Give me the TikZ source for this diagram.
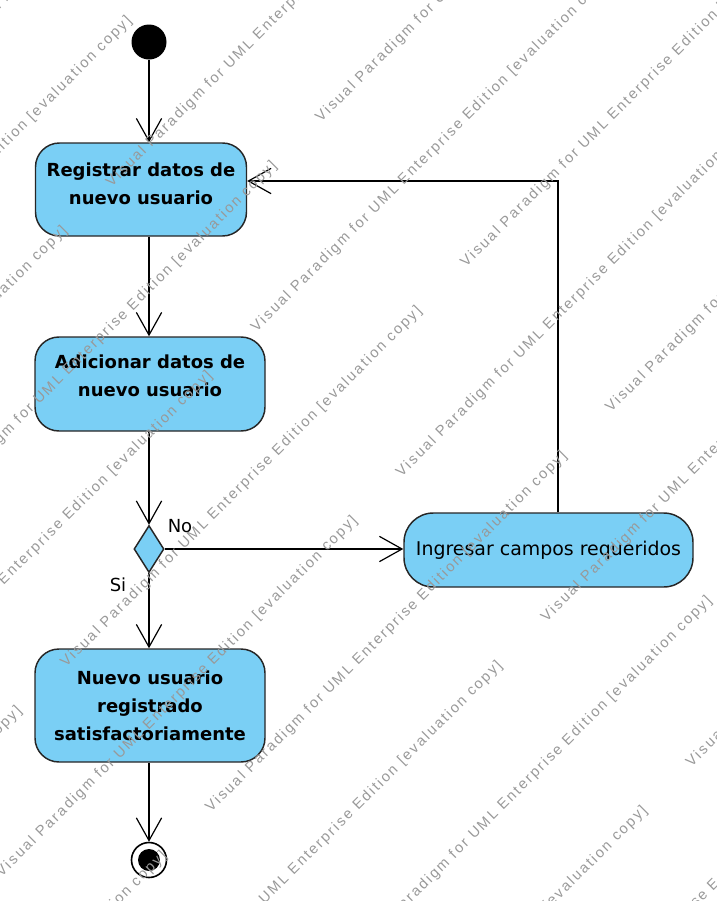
\documentclass[tikz,border=0pt]{standalone}
\usepackage{fontspec}
\setmainfont{DejaVu Sans}
\newfontfamily\wmfont[LetterSpace=14]{Liberation Sans}
\usetikzlibrary{shapes.geometric,arrows.meta}

\begin{document}
\begin{tikzpicture}[x=0.75pt,y=-0.75pt,
    act/.style={draw=black!85, line width=1.1pt, fill=actblue, rounded corners=18pt,
        align=center, inner sep=2pt, font=\fontsize{13.5}{21}\selectfont\bfseries},
    flow/.style={-{Straight Barb[length=17pt,width=19pt]}, line width=0.9pt},
    guard/.style={font=\fontsize{13.5}{16}\selectfont},
    watermark/.style={anchor=base west, rotate=45, inner sep=0pt, text=black!40,
        font=\wmfont\fontsize{11}{12}\selectfont}]
    \definecolor{actblue}{RGB}{122,207,245}

    \def\pxu{0.75pt}

    \useasboundingbox (0,0) rectangle (717,901);

    % activities
    \node[circle, fill=black, minimum size=35*\pxu, inner sep=0pt] (start) at (149,42) {};
    \node[act, minimum width=211*\pxu, minimum height=93*\pxu, text depth=9pt] (reg) at (141,189.5)
        {Registrar datos de\\nuevo usuario};
    \node[act, minimum width=230*\pxu, minimum height=94*\pxu, text depth=12pt] (add) at (150,384)
        {Adicionar datos de\\nuevo usuario};
    \node[diamond, draw=black!85, line width=1.1pt, fill=actblue, minimum width=30*\pxu,
        minimum height=47*\pxu, inner sep=0pt] (dec) at (149,549) {};
    \node[act, font=\fontsize{14.2}{21}\selectfont, rounded corners=22pt,
        minimum width=289*\pxu, minimum height=74*\pxu] (campos) at (548.5,550)
        {Ingresar campos requeridos};
    \node[act, minimum width=230*\pxu, minimum height=113*\pxu] (fin) at (150,705.5)
        {Nuevo usuario\\registrado\\satisfactoriamente};
    \node[circle, draw, line width=1.2pt, minimum size=35*\pxu, inner sep=0pt] (stop) at (149,860) {};
    \fill (stop.center) circle[radius=8.25pt];

    \node[guard] (no) at (180,526) {No};
    \node[guard] (si) at (118,585) {Si};

    % flows
    \draw[flow] (start) -- (start |- reg.north);
    \draw[flow] (start |- reg.south) -- (start |- add.north);
    \draw[flow] (start |- add.south) -- (dec.north);
    \draw[flow] (dec.east) -- (dec.east -| campos.west);
    \draw[flow] (dec.south) -- (start |- fin.north);
    \draw[flow] (start |- fin.south) -- (stop.north);
    \coordinate (back) at (558,181);
    \draw[flow] (campos.north -| back) -- (back) -- (back -| reg.east);

    % evaluation watermark
    \begin{scope}
        \clip (0,0) rectangle (717,901);
        \foreach \k in {-1,...,5}{
            \foreach \m in {-2,...,1}{
                \pgfmathsetmacro\wmsum{299+290*\k}
                \pgfmathsetmacro\wmdif{-76+800*\m}
                \node[watermark] (wmo\k\m) at ({(\wmsum+\wmdif)/2},{(\wmsum-\wmdif)/2})
                    {Visual Paradigm for UML Enterprise Edition [evaluation copy]};
                \pgfmathsetmacro\wmsum{154+290*\k}
                \pgfmathsetmacro\wmdif{198+800*\m}
                \node[watermark] (wme\k\m) at ({(\wmsum+\wmdif)/2},{(\wmsum-\wmdif)/2})
                    {Visual Paradigm for UML Enterprise Edition [evaluation copy]};
            }
        }
    \end{scope}
\end{tikzpicture}
\end{document}
